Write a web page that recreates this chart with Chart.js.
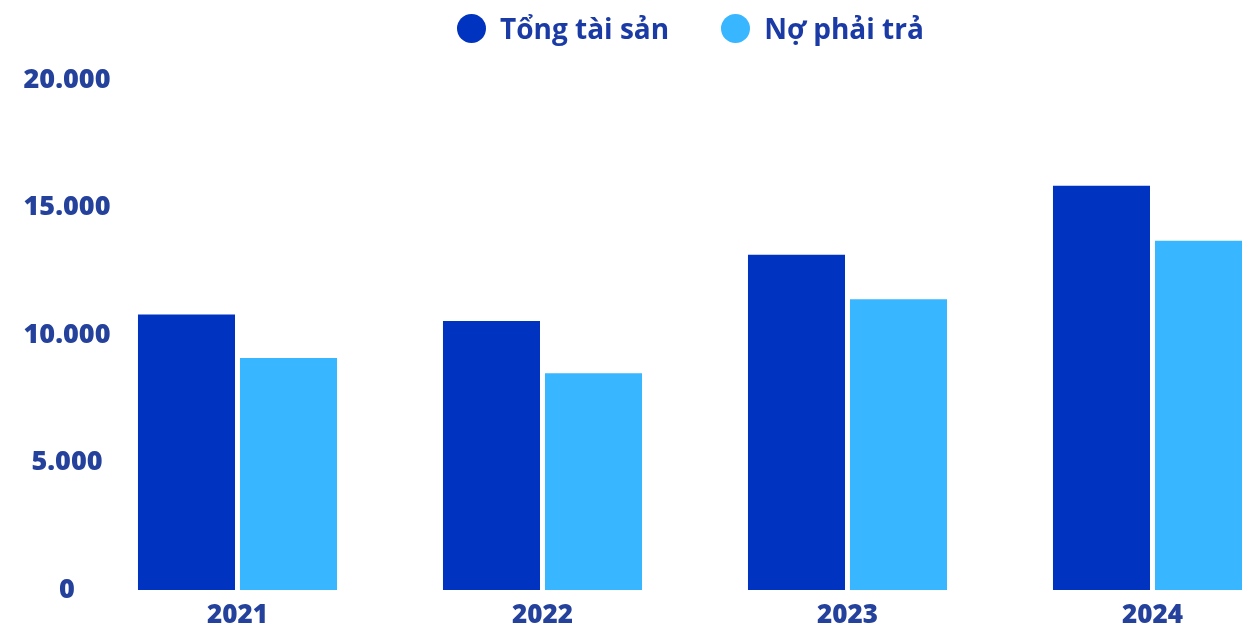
<!DOCTYPE html>
<html>
<head>
<meta charset="utf-8">
<script src="https://cdn.jsdelivr.net/npm/chart.js@4.4.1/dist/chart.umd.min.js"></script>
<style>
    html, body { margin: 0; padding: 0; background: #fff; overflow: hidden; }
    #wrap { position: relative; width: 1242px; height: 626px; overflow: hidden; }
    #legend { position: absolute; top: 9px; left: 457px; display: flex; align-items: center;
        font-family: "Open Sans", sans-serif; font-weight: 700; font-size: 28px; color: #1a3aa6; white-space: nowrap; }
    #legend .item { display: flex; align-items: center; }
    #legend .dot { width: 29px; height: 29px; border-radius: 50%; margin-right: 14px; }
    #legend .item + .item { margin-left: 52px; }
    canvas { position: absolute; left: 0; top: 0; }
</style>
</head>
<body>
<div id="wrap">
    <canvas id="balance_chart" width="1305" height="626"></canvas>
    <div id="legend"></div>
</div>
<script>
var years = ['2021', '2022', '2023', '2024'];
var totalAssets = [10800, 10550, 13150, 15850];
var liabilities = [9100, 8500, 11400, 13700];
var yTicks = [0, 5000, 10000, 15000, 20000];

var navy = '#24419c';
var xFont = { family: "'Open Sans', sans-serif", weight: 800, size: 26 };
var yFont = { family: "'Open Sans', sans-serif", weight: 800, size: 27 };

document.addEventListener("DOMContentLoaded", function() {
    var statisticsItem = document.getElementById("balance_chart");

    // y labels sit centred around x=67 while the plot starts at x=85,
    // so they are mirrored and pulled back to the left
    var ctx = statisticsItem.getContext('2d');
    ctx.font = '800 27px "Open Sans"';
    var widest = ctx.measureText('20.000').width;
    var yPadding = -18 - widest / 2;

    var data = {
        labels: years,
        datasets: [{
            label: 'Tổng tài sản',
            backgroundColor: '#0033bf',
            data: totalAssets
        }, {
            label: 'Nợ phải trả',
            backgroundColor: '#38b6ff',
            data: liabilities
        }]
    };

    var options = {
        responsive: false,
        animation: false,
        layout: { padding: { top: 80, right: 0, bottom: 0, left: 0 } },
        datasets: {
            bar: { categoryPercentage: 0.669, barPercentage: 0.951 }
        },
        plugins: {
            legend: { display: false },
            tooltip: { enabled: false }
        },
        scales: {
            x: {
                grid: { display: false, drawTicks: false },
                border: { display: false },
                ticks: { color: navy, font: xFont, padding: 10 },
                afterFit: function(scale) { scale.height = 36; }
            },
            y: {
                min: 0,
                max: 20000,
                afterBuildTicks: function(scale) {
                    scale.ticks = yTicks.map(function(v) { return { value: v }; });
                },
                grid: { display: false, drawTicks: false },
                border: { display: false },
                ticks: {
                    color: navy,
                    font: yFont,
                    mirror: true,
                    crossAlign: 'center',
                    padding: yPadding,
                    callback: function(value) {
                        return String(value).replace(/\B(?=(\d{3})+(?!\d))/g, '.');
                    }
                },
                afterFit: function(scale) { scale.width = 85; }
            }
        }
    };

    new Chart(statisticsItem, {
        type: 'bar',
        data: data,
        options: options
    });

    var legend = document.getElementById('legend');
    data.datasets.forEach(function(ds) {
        var item = document.createElement('span');
        item.className = 'item';
        var dot = document.createElement('span');
        dot.className = 'dot';
        dot.style.background = ds.backgroundColor;
        var text = document.createElement('span');
        text.textContent = ds.label;
        item.appendChild(dot);
        item.appendChild(text);
        legend.appendChild(item);
    });
});
</script>
</body>
</html>
